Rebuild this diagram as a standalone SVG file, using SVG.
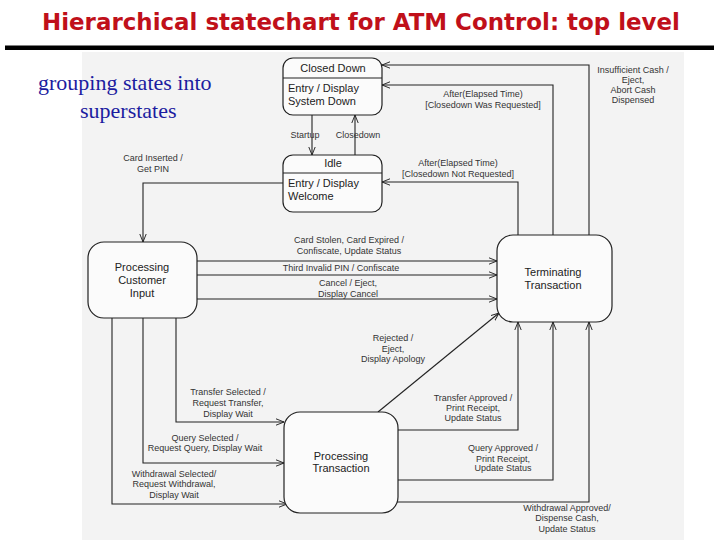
<svg xmlns="http://www.w3.org/2000/svg" width="720" height="540" viewBox="0 0 720 540">
<defs>
<marker id="arr" viewBox="0 0 10 10" refX="10" refY="5" markerWidth="8" markerHeight="8" markerUnits="userSpaceOnUse" orient="auto">
<path d="M0,1 L10,5 L0,9" fill="none" stroke="#222" stroke-width="1.2"/>
</marker>
</defs>
<style>
.title{font-family:"DejaVu Sans",Verdana,sans-serif;font-weight:bold;font-size:23.5px;fill:#c0101a}
.sub{font-family:"Liberation Serif","Times New Roman",serif;font-size:22px;fill:#1c1ca0}
.st{fill:#fbfbfb;stroke:#222;stroke-width:1.2}
.sn{font-family:"Liberation Sans",Arial,sans-serif;font-size:11px;fill:#222;text-anchor:middle}
.sl{font-family:"Liberation Sans",Arial,sans-serif;font-size:11px;fill:#222}
.lb{font-family:"Liberation Sans",Arial,sans-serif;font-size:9px;fill:#333;text-anchor:middle}
.cn{fill:none;stroke:#222;stroke-width:1.1}
</style>
<rect x="0" y="0" width="720" height="540" fill="#ffffff"/>
<rect x="82" y="52" width="602" height="488" fill="#f3f3f3"/>
<text class="title" x="361" y="30" text-anchor="middle" textLength="638" lengthAdjust="spacingAndGlyphs">Hierarchical statechart for ATM Control: top level</text>
<rect x="5" y="45.5" width="709" height="4.5" fill="#000"/>
<text class="sub" x="38" y="90">grouping states into</text>
<text class="sub" x="80" y="118">superstates</text>

<g id="connectors">
<path class="cn" d="M312,115 V155" marker-end="url(#arr)"/>
<path class="cn" d="M355,155 V115" marker-end="url(#arr)"/>
<path class="cn" d="M283,183 H143 V242" marker-end="url(#arr)"/>
<path class="cn" d="M197,261 H497" marker-end="url(#arr)"/>
<path class="cn" d="M197,275 H497" stroke-width="1.8" marker-end="url(#arr)"/>
<path class="cn" d="M197,299 H497" marker-end="url(#arr)"/>
<path class="cn" d="M176,318 V422 H284" marker-end="url(#arr)"/>
<path class="cn" d="M143,318 V463 H284" marker-end="url(#arr)"/>
<path class="cn" d="M112,318 V504 H287" marker-end="url(#arr)"/>
<path class="cn" d="M378,412 L499,313" marker-end="url(#arr)"/>
<path class="cn" d="M398,430 H518 V322" marker-end="url(#arr)"/>
<path class="cn" d="M398,480 H553 V322" marker-end="url(#arr)"/>
<path class="cn" d="M396,502 H589 V322" marker-end="url(#arr)"/>
<path class="cn" d="M518,235 V182 H382" marker-end="url(#arr)"/>
<path class="cn" d="M553,235 V85 H382" marker-end="url(#arr)"/>
<path class="cn" d="M589,235 V65 H382" marker-end="url(#arr)"/>

<text class="lb" x="305" y="138" text-anchor="end">Startup</text>
<text class="lb" x="358" y="138" text-anchor="start">Closedown</text>
<text class="lb" x="153" y="161">Card Inserted /</text>
<text class="lb" x="153" y="172">Get PIN</text>
<text class="lb" x="633" y="73">Insufficient Cash /</text>
<text class="lb" x="633" y="83">Eject,</text>
<text class="lb" x="633" y="93">Abort Cash</text>
<text class="lb" x="633" y="103">Dispensed</text>
<text class="lb" x="483" y="97">After(Elapsed Time)</text>
<text class="lb" x="483" y="108">[Closedown Was Requested]</text>
<text class="lb" x="458" y="166">After(Elapsed Time)</text>
<text class="lb" x="458" y="177">[Closedown Not Requested]</text>
<text class="lb" x="349" y="243">Card Stolen, Card Expired /</text>
<text class="lb" x="349" y="254">Confiscate, Update Status</text>
<text class="lb" x="341" y="271">Third Invalid PIN / Confiscate</text>
<text class="lb" x="348" y="286">Cancel / Eject,</text>
<text class="lb" x="348" y="297">Display Cancel</text>
<text class="lb" x="393" y="341">Rejected /</text>
<text class="lb" x="393" y="352">Eject,</text>
<text class="lb" x="393" y="362">Display Apology</text>
<text class="lb" x="228" y="395">Transfer Selected /</text>
<text class="lb" x="228" y="406">Request Transfer,</text>
<text class="lb" x="228" y="417">Display Wait</text>
<text class="lb" x="205" y="441">Query Selected /</text>
<text class="lb" x="205" y="451">Request Query, Display Wait</text>
<text class="lb" x="174" y="477">Withdrawal Selected/</text>
<text class="lb" x="174" y="487">Request Withdrawal,</text>
<text class="lb" x="174" y="498">Display Wait</text>
<text class="lb" x="473" y="401">Transfer Approved /</text>
<text class="lb" x="473" y="411">Print Receipt,</text>
<text class="lb" x="473" y="421">Update Status</text>
<text class="lb" x="503" y="451">Query Approved /</text>
<text class="lb" x="503" y="462">Print Receipt,</text>
<text class="lb" x="503" y="471">Update Status</text>
<text class="lb" x="567" y="511">Withdrawal Approved/</text>
<text class="lb" x="567" y="521">Dispense Cash,</text>
<text class="lb" x="567" y="532">Update Status</text>
</g>

<g id="closed-down">
<rect class="st" x="283" y="58" width="99" height="57" rx="10"/>
<line x1="283" y1="78" x2="382" y2="78" stroke="#222" stroke-width="1.1"/>
<text class="sn" x="333" y="72">Closed Down</text>
<text class="sl" x="288" y="92">Entry / Display</text>
<text class="sl" x="288" y="105">System Down</text>
</g>
<g id="idle">
<rect class="st" x="283" y="155" width="99" height="57" rx="10"/>
<line x1="283" y1="173" x2="382" y2="173" stroke="#222" stroke-width="1.1"/>
<text class="sn" x="333" y="167">Idle</text>
<text class="sl" x="288" y="187">Entry / Display</text>
<text class="sl" x="288" y="200">Welcome</text>
</g>
<g id="processing-customer-input">
<rect class="st" x="88" y="242" width="109" height="76" rx="16"/>
<text class="sn" x="142" y="271">Processing</text>
<text class="sn" x="142" y="284">Customer</text>
<text class="sn" x="142" y="297">Input</text>
</g>
<g id="terminating-transaction">
<rect class="st" x="497" y="235" width="115" height="87" rx="16"/>
<text class="sn" x="553" y="276">Terminating</text>
<text class="sn" x="553" y="289">Transaction</text>
</g>
<g id="processing-transaction">
<rect class="st" x="284" y="412" width="114" height="101" rx="16"/>
<text class="sn" x="341" y="460">Processing</text>
<text class="sn" x="341" y="472">Transaction</text>
</g>
</svg>
